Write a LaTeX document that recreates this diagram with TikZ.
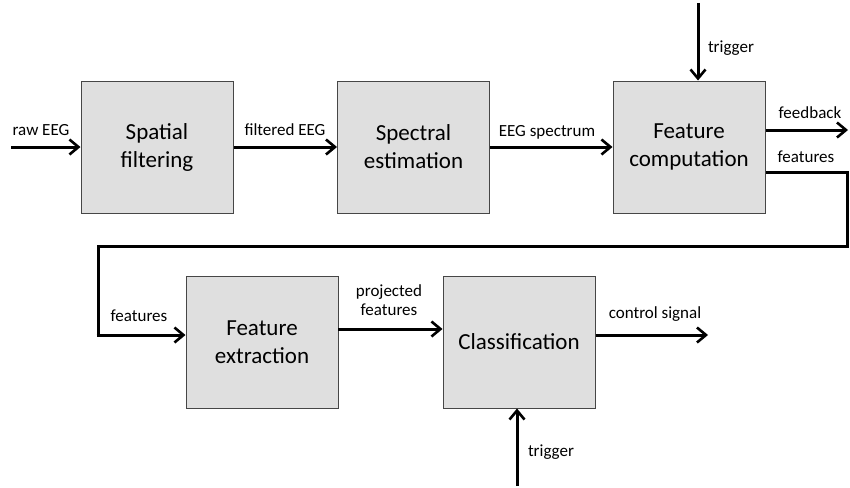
\documentclass[tikz,border=0pt]{standalone}
\usepackage{fontspec}
\setmainfont{Carlito}
\usetikzlibrary{arrows.meta}
\definecolor{boxfill}{RGB}{223,223,223}
\definecolor{boxline}{RGB}{70,70,70}
\begin{document}
\begin{tikzpicture}[x=1pt,y=-1pt,
  block/.style={draw=boxline,fill=boxfill,line width=1pt,minimum width=152pt,
    minimum height=132pt,inner sep=0pt,align=center,
    font=\fontsize{23}{28}\selectfont},
  sig/.style={line width=3pt,line join=miter,-{Straight Barb[length=9pt,width=15pt,line width=2.6pt]}},
  wire/.style={line width=3pt,line join=miter},
  lbl/.style={inner sep=0pt,align=center,font=\fontsize{17}{19.5}\selectfont}]
\useasboundingbox (0,0) rectangle (850,487);

% processing blocks
\node[block] (sf) at (157,147) {Spatial\\filtering};
\node[block] (se) at (413.5,147) {Spectral\\estimation};
\node[block] (fc) at (689,147) {Feature\\computation};
\node[block] (fe) at (262,342) {Feature\\extraction};
\node[block] (cl) at (519,342) {Classification};

% free ends of the signal lines
\coordinate (rawin) at (11,147);
\coordinate (trigtop) at (698,3);
\coordinate (fbout) at (848,130);
\coordinate (featout) at (766,172);
\coordinate (bendA) at (847,172);
\coordinate (bendB) at (847,246);
\coordinate (bendC) at (98,246);
\coordinate (bendD) at (98,335);
\coordinate (projout) at (338,329);
\coordinate (ctrlout) at (708,335);
\coordinate (trigbot) at (517,486);

% top row
\draw[sig] (rawin) -- (sf.west);
\draw[sig] (sf.east) -- (se.west);
\draw[sig] (se.east) -- (fc.west);
\draw[sig] (trigtop) -- (trigtop |- fc.north);
\draw[sig] (fbout -| fc.east) -- (fbout);

% features loop back to the second row
\draw[wire] (featout) -- (bendA) -- (bendB) -- (bendC) -- (bendD);
\draw[sig] ([xshift=-1.5pt]bendD) -- (bendD -| fe.west);

% bottom row
\draw[sig] (projout) -- (projout -| cl.west);
\draw[sig] (ctrlout -| cl.east) -- (ctrlout);
\draw[sig] (trigbot) -- (trigbot |- cl.south);

% labels
\node[lbl] (l1) at (41,130) {raw EEG};
\node[lbl] (l2) at (285,130) {filtered EEG};
\node[lbl] (l3) at (547,132) {EEG spectrum};
\node[lbl] (l4) at (731,48) {trigger};
\node[lbl] (l5) at (810,113) {feedback};
\node[lbl] (l6) at (806,157) {features};
\node[lbl] (l7) at (139,316) {features};
\node[lbl] (l8) at (389,300) {projected\\features};
\node[lbl] (l9) at (655,314) {control signal};
\node[lbl] (l10) at (551,452) {trigger};
\end{tikzpicture}
\end{document}
